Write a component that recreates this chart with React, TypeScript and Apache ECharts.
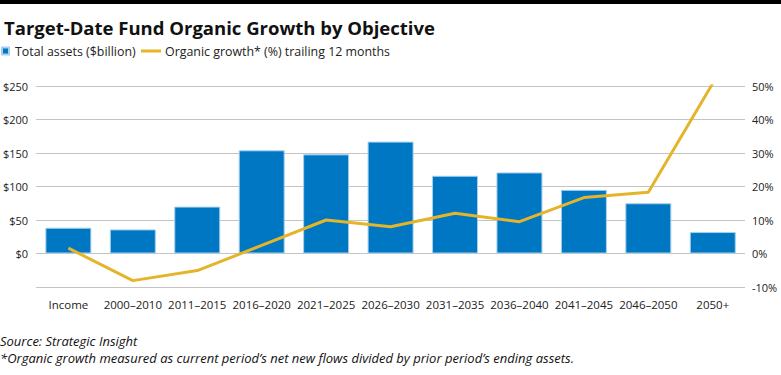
import React, { useEffect, useRef } from "react";
import * as echarts from "echarts";

const categories = ["Income", "2000–2010", "2011–2015", "2016–2020", "2021–2025", "2026–2030", "2031–2035", "2036–2040", "2041–2045", "2046–2050", "2050+"];
const totalAssets = [38.5, 36, 70, 154, 148, 167, 116, 121, 95, 75, 32];
const organicGrowth = [1.6, -8.1, -5.1, 2.4, 10, 8, 12, 9.5, 16.7, 18.3, 50.8];

const FONT = "'Open Sans', 'Noto Sans', sans-serif";
const BAR_NAME = "Total assets ($billion)";
const LINE_NAME = "Organic growth* (%) trailing 12 months";

export default function App() {
  const ref = useRef<HTMLDivElement>(null);
  useEffect(() => {
    if (!ref.current) return;
    const chart = echarts.init(ref.current, null, { renderer: "svg" });
    chart.setOption({
      animation: false,
      backgroundColor: "#fff",
      textStyle: { fontFamily: FONT },
      title: {
        text: "Target-Date Fund Organic Growth by Objective",
        left: -1,
        top: 13,
        textStyle: { fontFamily: FONT, fontSize: 18.5, fontWeight: "bold", color: "#111" },
      },
      legend: [
        {
          data: [BAR_NAME],
          left: 1,
          top: 45,
          icon: "rect",
          itemWidth: 7,
          itemHeight: 7,
          textStyle: { fontFamily: FONT, fontSize: 12.4, color: "#222", padding: [0, 0, 0, 1] },
          padding: 0,
        },
        {
          data: [LINE_NAME],
          left: 141,
          top: 45,
          icon: "rect",
          itemWidth: 20,
          itemHeight: 3,
          textStyle: { fontFamily: FONT, fontSize: 12.4, color: "#222", padding: [0, 0, 0, -1] },
          padding: 0,
        },
      ],
      grid: { left: 35, right: 36, top: 86, bottom: 88, containLabel: false },
      xAxis: {
        type: "category",
        data: categories,
        axisLine: { show: false },
        axisTick: { show: false },
        axisLabel: { fontFamily: FONT, fontSize: 11.5, color: "#222", margin: 11, interval: 0 },
      },
      yAxis: [
        {
          type: "value",
          min: -50,
          max: 250,
          interval: 50,
          axisLine: { show: false },
          axisTick: { show: false },
          splitLine: { lineStyle: { color: "#c4c4c4", width: 1 } },
          axisLabel: {
            fontFamily: FONT,
            fontSize: 11,
            color: "#222",
            margin: 8,
            formatter: (v: number) => (v < 0 ? "" : "$" + v),
          },
        },
        {
          type: "value",
          min: -10,
          max: 50,
          interval: 10,
          position: "right",
          axisLine: { show: false },
          axisTick: { show: false },
          splitLine: { show: false },
          axisLabel: { fontFamily: FONT, fontSize: 11, color: "#222", margin: 7, formatter: "{value}%" },
        },
      ],
      series: [
        {
          name: BAR_NAME,
          type: "bar",
          data: totalAssets,
          barWidth: 46,
          itemStyle: { color: "#0077c2", borderColor: "#a8cfee", borderWidth: 1 },
        },
        {
          name: LINE_NAME,
          type: "line",
          yAxisIndex: 1,
          data: organicGrowth,
          symbol: "none",
          lineStyle: { color: "#e4b52a", width: 3 },
          itemStyle: { color: "#e4b52a" },
        },
      ],
      graphic: [
        { type: "rect", left: 0, top: 0, shape: { width: 781, height: 4 }, style: { fill: "#000" } },
        {
          type: "text",
          left: 0,
          top: 334,
          style: { text: "Source: Strategic Insight", font: `italic 13px ${FONT}`, fill: "#111" },
        },
        {
          type: "text",
          left: 0,
          top: 351,
          style: {
            text: "*Organic growth measured as current period’s net new flows divided by prior period’s ending assets.",
            font: `italic 13px ${FONT}`,
            fill: "#111",
          },
        },
      ],
    });
    return () => chart.dispose();
  }, []);
  return <div ref={ref} style={{ position: "fixed", left: 0, top: 0, width: 781, height: 375 }} />;
}
